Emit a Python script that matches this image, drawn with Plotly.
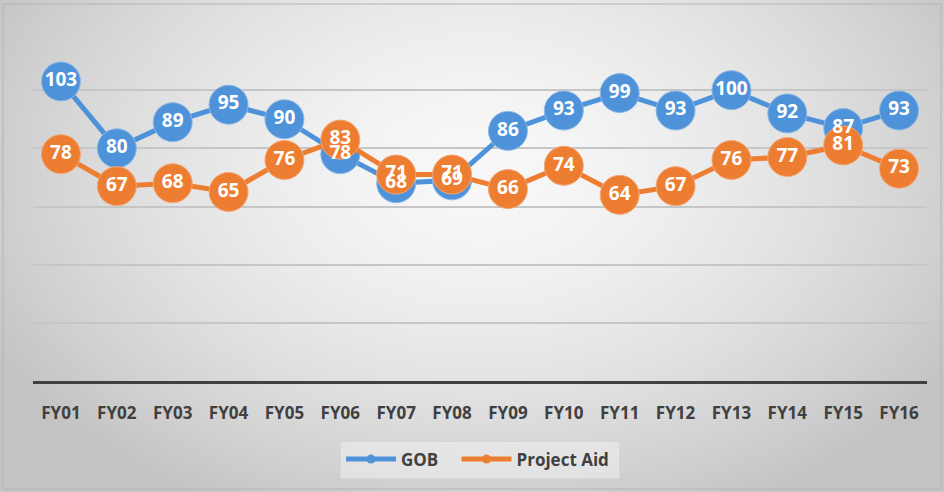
import numpy as np
import zlib, struct, base64
import plotly.graph_objects as go

categories = ["FY01", "FY02", "FY03", "FY04", "FY05", "FY06", "FY07", "FY08",
              "FY09", "FY10", "FY11", "FY12", "FY13", "FY14", "FY15", "FY16"]
gob = [103, 80, 89, 95, 90, 78, 68, 69, 86, 93, 99, 93, 100, 92, 87, 93]
project_aid = [78, 67, 68, 65, 76, 83, 71, 71, 66, 74, 64, 67, 76, 77, 81, 73]
series_names = ["GOB", "Project Aid"]

W, H = 944, 492
L, R, T, B = 33, 17, 32, 111
BLUE = "#4e93da"
ORANGE = "#ED7D31"
FONT = "Open Sans"


def png_data_uri(arr):
    h, w = arr.shape
    raw = b"".join(b"\x00" + arr[i].astype(np.uint8).tobytes() for i in range(h))

    def chunk(tag, data):
        c = struct.pack(">I", len(data)) + tag + data
        return c + struct.pack(">I", zlib.crc32(tag + data) & 0xffffffff)

    png = b"\x89PNG\r\n\x1a\n"
    png += chunk(b"IHDR", struct.pack(">IIBBBBB", w, h, 8, 0, 0, 0, 0))
    png += chunk(b"IDAT", zlib.compress(raw, 9))
    png += chunk(b"IEND", b"")
    return "data:image/png;base64," + base64.b64encode(png).decode()


yy, xx = np.mgrid[0:H, 0:W]
d = np.sqrt(((xx - 480) / 540.0) ** 2 + ((yy - 170) / 370.0) ** 2)
bg = np.clip(248 - 50 * d ** 1.6, 195, 250)

fig = go.Figure()
fig.add_trace(go.Scatter(x=categories, y=gob, mode="lines+markers", showlegend=False,
                         line=dict(color=BLUE, width=5),
                         marker=dict(size=39, color=BLUE, line=dict(color="#8db8e6", width=1)),
                         hoverinfo="skip"))
fig.add_trace(go.Scatter(x=categories, y=project_aid, mode="lines+markers", showlegend=False,
                         line=dict(color=ORANGE, width=5),
                         marker=dict(size=39, color=ORANGE, line=dict(color="#f4a878", width=1)),
                         hoverinfo="skip"))
for vals in (gob, project_aid):
    fig.add_trace(go.Scatter(x=categories, y=vals, mode="text", showlegend=False,
                             text=[str(v) for v in vals], textposition="middle center",
                             textfont=dict(family=FONT, size=19, color="white", weight="bold"),
                             hoverinfo="skip"))
fig.add_trace(go.Scatter(x=[None], y=[None], mode="lines+markers",
                         name=series_names[0] + "\u00a0\u00a0\u00a0",
                         line=dict(color=BLUE, width=5), marker=dict(size=9, color=BLUE)))
fig.add_trace(go.Scatter(x=[None], y=[None], mode="lines+markers",
                         name=series_names[1] + "\u00a0",
                         line=dict(color=ORANGE, width=5), marker=dict(size=9, color=ORANGE)))

pw, ph = W - L - R, H - T - B
fig.add_layout_image(dict(source=png_data_uri(bg), xref="paper", yref="paper",
                          x=-L / pw, y=1 + T / ph, sizex=W / pw, sizey=H / ph,
                          xanchor="left", yanchor="top", sizing="stretch", layer="below"))

fig.update_layout(
    width=W, height=H,
    margin=dict(l=L, r=R, t=T, b=B),
    paper_bgcolor="#e2e2e2", plot_bgcolor="rgba(0,0,0,0)",
    font=dict(family=FONT, color="#404040"),
    showlegend=True,
    legend=dict(orientation="h", x=0.5, xanchor="center", y=-0.225, yanchor="middle",
                font=dict(family=FONT, size=17, color="#404040", weight="bold"),
                bgcolor="rgba(240,240,240,0.55)", bordercolor="#d6d6d6", borderwidth=1,
                itemwidth=50),
    shapes=[dict(type="rect", xref="paper", yref="paper", x0=-L / pw + 3 / pw, x1=1 + (R - 3) / pw,
                 y0=-B / ph + 3 / ph, y1=1 + (T - 4) / ph,
                 line=dict(color="#b4b4b4", width=1), layer="below")],
)
fig.update_xaxes(type="category", range=[-0.5, 15.5], showgrid=False,
                 showline=True, linecolor="#404040", linewidth=3,
                 ticks="outside", ticklen=15, tickcolor="rgba(0,0,0,0)",
                 tickfont=dict(family=FONT, size=17, color="#404040", weight="bold"))
fig.update_yaxes(range=[0, 120], dtick=20, showticklabels=False, zeroline=False,
                 showgrid=True, gridcolor="#c6c6c6", gridwidth=2)

fig.write_html("out.html")
